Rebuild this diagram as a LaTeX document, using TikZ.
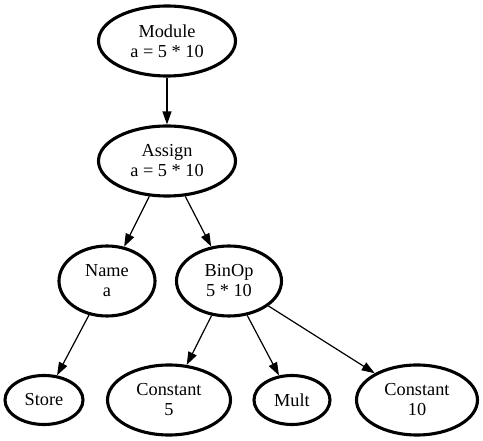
\documentclass[tikz,border=0pt]{standalone}
\usepackage{fontspec}
\setmainfont{Liberation Serif}
\usetikzlibrary{shapes.geometric,arrows.meta}
\begin{document}
\begin{tikzpicture}[x=1pt,y=-1pt,
  astnode/.style={ellipse,draw,line width=3.1pt,inner sep=0pt,align=center,font=\fontsize{18.3}{20}\selectfont},
  twoline/.style={astnode,minimum height=70pt},
  oneline/.style={astnode,minimum height=49pt},
  conn/.style={line width=1.2pt,-{Triangle[length=13pt,width=9pt]}}]
\useasboundingbox[fill=white] (0,0) rectangle (483,441);
\node[twoline,minimum width=137pt] (module) at (167,41) {Module\\a = 5 * 10};
\node[twoline,minimum width=137pt] (assign) at (167,161) {Assign\\a = 5 * 10};
\node[twoline,minimum width=96pt] (name) at (107,281) {Name\\a};
\node[twoline,minimum width=105pt] (binop) at (229,281) {BinOp\\5 * 10};
\node[oneline,minimum width=78pt] (store) at (44,400) {Store};
\node[twoline,minimum width=123pt] (const5) at (169,400) {Constant\\5};
\node[oneline,minimum width=76pt] (mult) at (292,400) {Mult};
\node[twoline,minimum width=121pt] (const10) at (417,400) {Constant\\10};
\draw[conn] (module) -- (assign);
\draw[conn] (assign) -- (name);
\draw[conn] (assign) -- (binop);
\draw[conn] (name) -- (store);
\draw[conn] (binop) -- (const5);
\draw[conn] (binop) -- (mult);
\draw[conn] (binop) -- (const10);
\end{tikzpicture}
\end{document}
